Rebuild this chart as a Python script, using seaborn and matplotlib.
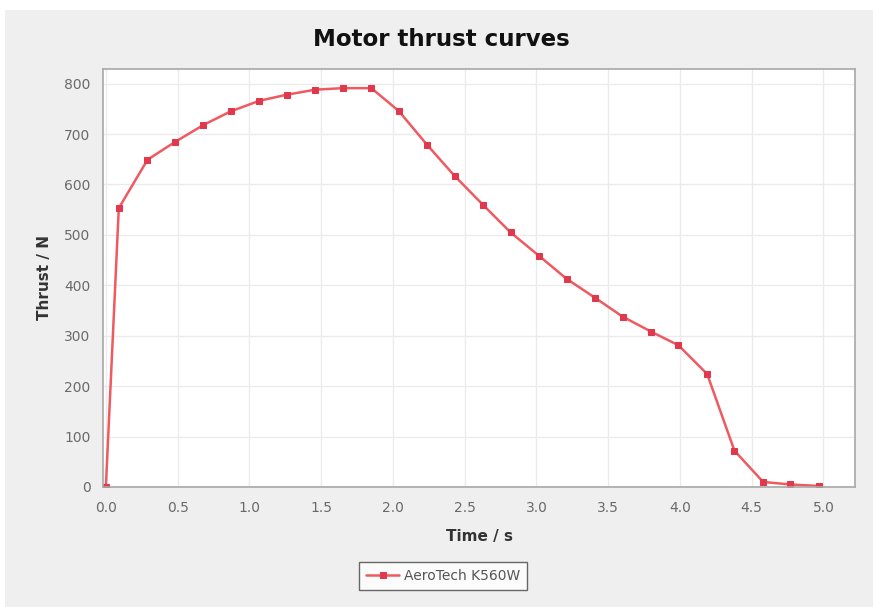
import matplotlib
matplotlib.use("Agg")
import matplotlib.pyplot as plt
import seaborn as sns
import pandas as pd
from matplotlib.patches import Rectangle

time_s = [0.0, 0.09, 0.29, 0.48, 0.68, 0.87, 1.07, 1.26, 1.46, 1.65, 1.85,
          2.04, 2.24, 2.43, 2.63, 2.82, 3.02, 3.21, 3.41, 3.60, 3.80, 3.99,
          4.19, 4.38, 4.58, 4.77, 4.97]
thrust_n = [0, 553, 649, 684, 718, 745, 766, 778, 788, 791, 791,
            746, 678, 617, 559, 505, 458, 413, 375, 338, 308, 281,
            224, 72, 10, 5, 2]
series_name = "AeroTech K560W"
x_ticks = [0.0, 0.5, 1.0, 1.5, 2.0, 2.5, 3.0, 3.5, 4.0, 4.5, 5.0]
y_ticks = [0, 100, 200, 300, 400, 500, 600, 700, 800]

df = pd.DataFrame({"Time": time_s, "Thrust": thrust_n, "Motor": series_name})

sns.set_theme(style="whitegrid")
plt.rcParams["font.family"] = ["DejaVu Sans"]

fig = plt.figure(figsize=(8.73, 6.07), dpi=100, facecolor="white")
fig.patches.append(Rectangle((5 / 873, 0), 1, 1 - 10 / 607, transform=fig.transFigure,
                             facecolor="#efefef", edgecolor="none", zorder=-10))
ax = fig.add_axes([103 / 873, 1 - 487 / 607, (855 - 103) / 873, (487 - 69) / 607])
ax.set_facecolor("white")

sns.lineplot(data=df, x="Time", y="Thrust", hue="Motor", ax=ax,
             palette=["#ef5a60"], linewidth=1.8, marker="s", markersize=4.8,
             markerfacecolor="#e0394d", markeredgecolor="#e0394d")

ax.set_xlim(-0.02, 5.22)
ax.set_ylim(0, 829)
ax.set_xticks(x_ticks)
ax.set_xticklabels([f"{v:.1f}" for v in x_ticks])
ax.set_yticks(y_ticks)
ax.grid(True, color="#ebebeb", linewidth=1.0)
for s in ax.spines.values():
    s.set_color("#a8a8a8")
    s.set_linewidth(1.2)
ax.tick_params(axis="both", colors="#8a8a8a", labelsize=10, length=3, width=0.8,
               labelcolor="#6a6a6a")
ax.tick_params(axis="x", pad=7)
ax.tick_params(axis="y", pad=6)

ax.set_xlabel("Time / s", fontsize=11, fontweight="bold", color="#333333", labelpad=10)
ax.set_ylabel("Thrust / N", fontsize=11, fontweight="bold", color="#333333", labelpad=9)
fig.text(0.506, 1 - 40 / 607, "Motor thrust curves", ha="center", va="center",
         fontsize=16.5, fontweight="heavy", color="#111111")

leg = ax.legend(loc="upper center", bbox_to_anchor=(0.452, -0.162), frameon=True,
                fontsize=10, handlelength=2.4, handletextpad=0.3, borderpad=0.5,
                fancybox=False, title=None)
leg.get_frame().set_edgecolor("#444444")
leg.get_frame().set_linewidth(1.0)
leg.get_frame().set_facecolor("white")
for t in leg.get_texts():
    t.set_color("#555555")

fig.savefig("out.png", dpi=100, facecolor=fig.get_facecolor())
